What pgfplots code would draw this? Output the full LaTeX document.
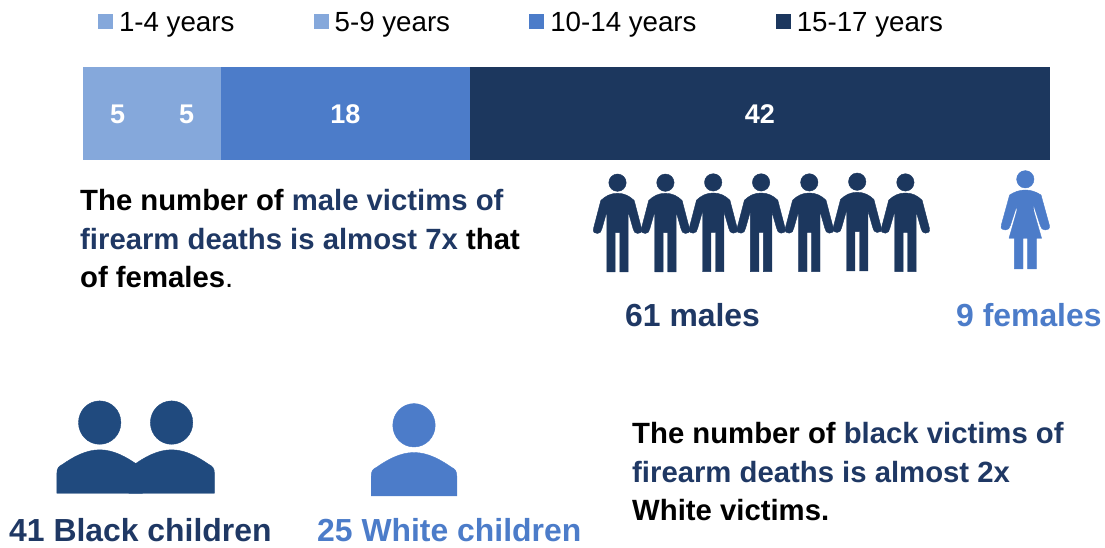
\documentclass[border=0pt]{standalone}
\usepackage{pgfplots}
\pgfplotsset{compat=1.18}
\usepackage{fontspec}
\setmainfont{Liberation Sans}

\definecolor{navy}{HTML}{1C375E}
\definecolor{midblue}{HTML}{4C7CC9}
\definecolor{lightblue}{HTML}{85A8DB}
\definecolor{bustblue}{HTML}{204A7E}
\definecolor{txtblue}{HTML}{1F3864}

% pictograms, drawn in picture pixels (1px = 1pt), origin at the feet
\pgfdeclareplotmark{man}{%
  \fill[x=1pt,y=1pt] (0,89.3) circle (8.7);
  \fill[x=1pt,y=1pt] (0,78.7) .. controls (-7,78.7) and (-12,76) .. (-16.7,71.5)
    -- (-24,43.5) .. controls (-25,39.5) and (-22.5,38.5) .. (-20,38.5)
    .. controls (-17.5,38.5) and (-16,40.5) .. (-15.5,43.5) -- (-10.7,60.3)
    -- (-10.7,0) -- (-2.3,0) -- (-2.3,39.3) -- (2.3,39.3) -- (2.3,0) -- (10.7,0) -- (10.7,60.3)
    -- (15.5,43.5) .. controls (16,40.5) and (17.5,38.5) .. (20,38.5)
    .. controls (22.5,38.5) and (25,39.5) .. (24,43.5)
    -- (16.7,71.5) .. controls (12,76) and (7,78.7) .. (0,78.7) -- cycle;
}
\pgfdeclareplotmark{woman}{%
  \fill[x=1pt,y=1pt] (0,89.7) circle (8.7);
  \fill[x=1pt,y=1pt] (0,79) .. controls (-6,79) and (-11,77) .. (-15.7,74)
    -- (-24,44) .. controls (-25,40) and (-22.5,39) .. (-20,39)
    .. controls (-17.5,39) and (-15.5,40.5) .. (-15,43.3) -- (-8.3,64)
    -- (-8.5,58) -- (-16.3,30.7) -- (-11,30.7) -- (-11,0) -- (-2.3,0) -- (-2.3,30.7)
    -- (2.3,30.7) -- (2.3,0) -- (11,0) -- (11,30.7) -- (16.3,30.7) -- (8.5,58) -- (8.3,64)
    -- (15,43.3) .. controls (15.5,40.5) and (17.5,39) .. (20,39)
    .. controls (22.5,39) and (25,40) .. (24,44)
    -- (15.7,74) .. controls (11,77) and (6,79) .. (0,79) -- cycle;
}
\pgfdeclareplotmark{bust}{%
  \fill[x=1pt,y=1pt] (0,70.7) ellipse (21.2 and 21.7);
  \fill[x=1pt,y=1pt] (-42.8,0) -- (-42.8,20) .. controls (-42.8,25) and (-41,27) .. (-37,29)
    .. controls (-27,36) and (-14,43.5) .. (0,43.5)
    .. controls (14,43.5) and (27,36) .. (37,29)
    .. controls (41,27) and (42.8,25) .. (42.8,20) -- (42.8,0) -- cycle;
}

\newcommand{\txt}[1]{{\fontsize{29.3}{35}\selectfont\bfseries #1}}
\newcommand{\bigtxt}[1]{{\fontsize{31.9}{38}\selectfont\bfseries #1}}

\begin{document}
\begin{tikzpicture}
\path[use as bounding box] (0,0) rectangle (1105pt,548pt);

% stacked bar with the age groups
\begin{axis}[
  at={(83pt,388pt)}, anchor=south west,
  scale only axis, width=967pt, height=93pt,
  hide axis, clip=false,
  xbar stacked, bar width=93pt,
  xmin=0, xmax=70, ymin=-1, ymax=1,
  legend columns=4,
  legend style={
    draw=none, fill=none, inner sep=0pt, outer sep=0pt,
    at={(15pt,148pt)}, anchor=north west,
    font=\fontsize{27.7}{33}\selectfont,
    /tikz/every odd column/.append style={column sep=6pt},
    /tikz/every even column/.append style={column sep=79.2pt},
    nodes={inner xsep=0pt, inner ysep=0pt, text depth=0pt},
  },
  legend image code/.code={\fill[#1] (0pt,-7.5pt) rectangle (15pt,7.5pt);},
]
\addplot[draw=none, fill=lightblue] coordinates {(5,0)};
\addplot[draw=none, fill=lightblue] coordinates {(5,0)};
\addplot[draw=none, fill=midblue] coordinates {(18,0)};
\addplot[draw=none, fill=navy] coordinates {(42,0)};
\legend{1-4 years,5-9 years,10-14 years,15-17 years}
\end{axis}

% value labels, centred on the segments
\begin{axis}[
  at={(83pt,388pt)}, anchor=south west,
  scale only axis, width=967pt, height=93pt,
  hide axis, clip=false,
  xmin=0, xmax=70, ymin=-1, ymax=1,
  point meta=explicit symbolic,
  nodes near coords={\pgfplotspointmeta},
  every node near coord/.style={anchor=center, inner sep=0pt, yshift=-1pt, text=white, font=\fontsize{27}{32}\selectfont\bfseries},
]
\addplot[only marks, mark=none, draw=none] coordinates {
  (2.5,0) [5]
  (7.5,0) [5]
  (19,0) [18]
  (49,0) [42]
};
\end{axis}

% pictograms, x and y in picture pixels
\begin{axis}[
  at={(0pt,0pt)}, anchor=south west,
  scale only axis, width=1105pt, height=548pt,
  hide axis, clip=false,
  xmin=0, xmax=1105, ymin=0, ymax=548,
]
\addplot[only marks, mark=man, color=navy, mark options={draw=none, fill=navy}] coordinates {
  (617.5,276) (665.4,276) (713.2,276.3) (761.1,276.3) (809.3,276.3) (857.2,277) (905.4,276.3)};
\addplot[only marks, mark=woman, color=midblue, mark options={draw=none, fill=midblue}] coordinates {(1025.3,279)};
\addplot[only marks, mark=bust, color=bustblue, mark options={draw=none, fill=bustblue}] coordinates {(99.7,54.7) (171.6,54.7)};
\addplot[only marks, mark=bust, color=midblue, mark options={draw=none, fill=midblue}] coordinates {(414,52)};
\end{axis}

\begin{scope}[every node/.style={inner sep=0pt, anchor=base west}]
\node at (80pt,337pt) {\txt{The number of \textcolor{txtblue}{male victims of}}};
\node at (80pt,298pt) {\txt{\textcolor{txtblue}{firearm deaths is almost 7x} that}};
\node at (80pt,260pt) {\txt{of females}\fontsize{29.3}{35}\selectfont.};
\node at (632pt,104pt) {\txt{The number of \textcolor{txtblue}{black victims of}}};
\node at (632pt,65pt) {\txt{\textcolor{txtblue}{firearm deaths is almost 2x}}};
\node at (632pt,27pt) {\txt{White victims.}};
\node at (625pt,221pt) {\bigtxt{\textcolor{txtblue}{61 males}}};
\node at (956pt,221pt) {\bigtxt{\textcolor{midblue}{9 females}}};
\node at (9pt,6pt) {\bigtxt{\textcolor{txtblue}{41 Black children}}};
\node at (317pt,6pt) {\bigtxt{\textcolor{midblue}{25 White children}}};
\end{scope}
\end{tikzpicture}
\end{document}
